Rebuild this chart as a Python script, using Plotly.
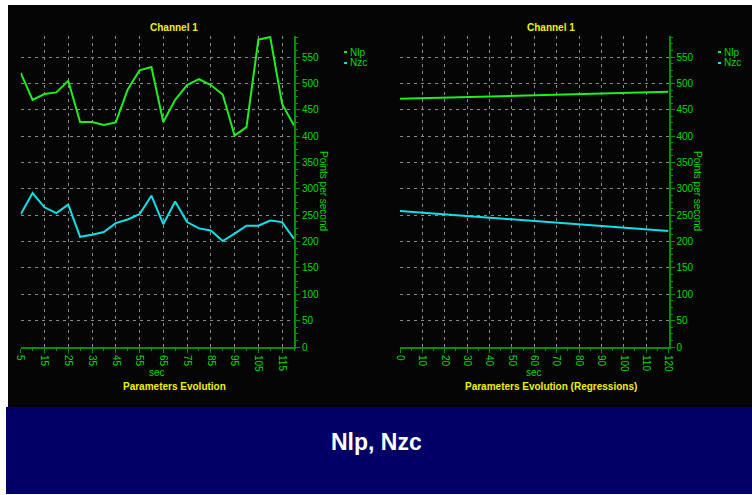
import plotly.graph_objects as go

W, H = 752, 495

# ---- data ----
sec_left = [5, 10, 15, 20, 25, 30, 35, 40, 45, 50, 55, 60, 65, 70, 75, 80,
            85, 90, 95, 100, 105, 110, 115, 120]
nlp_vals = [520, 469, 480, 483, 505, 427, 427, 421, 426, 488, 525, 531,
            427, 469, 497, 508, 497, 479, 401, 417, 583, 588, 461, 420]
nzc_vals = [252, 292, 265, 254, 270, 209, 213, 218, 235, 242, 252, 287,
            233, 276, 237, 225, 221, 201, 215, 230, 230, 240, 237, 205]

sec_right = [0, 120]
nlp_reg = [471, 484]
nzc_reg = [258, 220]

series_names = ["Nlp", "Nzc"]
chart_titles = ["Channel 1", "Channel 1"]
bottom_titles = ["Parameters Evolution", "Parameters Evolution (Regressions)"]
y_title = "Points per second"
x_title = "sec"
banner = "Nlp, Nzc"

# ---- style ----
GREEN = "#1ef01e"
CYAN = "#10e0e8"
AXIS = "#009000"
TICKTXT = "#00dd00"
YELLOW = "#f0f000"
GRID = "#8a8a8a"
FONT = "Liberation Sans"


def px_x(v):
    return v / W


def px_y(v):
    return 1 - v / H


fig = go.Figure()
fig.add_trace(go.Scatter(x=sec_left, y=nlp_vals, mode="lines", name=series_names[0],
                         line=dict(color=GREEN, width=2), xaxis="x", yaxis="y"))
fig.add_trace(go.Scatter(x=sec_left, y=nzc_vals, mode="lines", name=series_names[1],
                         line=dict(color=CYAN, width=2), xaxis="x", yaxis="y"))
fig.add_trace(go.Scatter(x=sec_right, y=nlp_reg, mode="lines", name=series_names[0],
                         line=dict(color=GREEN, width=2), xaxis="x2", yaxis="y2"))
fig.add_trace(go.Scatter(x=sec_right, y=nzc_reg, mode="lines", name=series_names[1],
                         line=dict(color=CYAN, width=2), xaxis="x2", yaxis="y2"))

ydom = [px_y(347), px_y(36)]

common_x = dict(
    showgrid=True, gridcolor=GRID, griddash="3px,4px", gridwidth=1,
    showline=True, linecolor=AXIS, linewidth=2,
    ticks="outside", ticklen=4, tickcolor=AXIS, tickwidth=1,
    tickangle=90, tickfont=dict(family=FONT, size=10, color=TICKTXT),
    zeroline=False, fixedrange=True, automargin=False,
    minor=dict(ticks="outside", ticklen=2, tickcolor=AXIS, dtick=5, showgrid=False),
)
common_y = dict(
    range=[0, 590], side="right",
    showgrid=True, gridcolor=GRID, griddash="3px,4px", gridwidth=1,
    showline=True, linecolor=AXIS, linewidth=2,
    ticks="outside", ticklen=4, tickcolor=AXIS, tickwidth=1,
    tick0=0, dtick=50,
    tickfont=dict(family=FONT, size=10, color=TICKTXT),
    zeroline=False, fixedrange=True, automargin=False,
    minor=dict(ticks="outside", ticklen=2, tickcolor=AXIS, dtick=12.5, showgrid=False),
)

fig.update_layout(
    width=W, height=H,
    margin=dict(l=0, r=0, t=0, b=0),
    paper_bgcolor="white", plot_bgcolor="rgba(0,0,0,0)",
    showlegend=False,
    xaxis=dict(domain=[px_x(20.7), px_x(294)], range=[5, 120], tick0=5, dtick=10,
               anchor="y", **common_x),
    yaxis=dict(domain=ydom, anchor="x", **common_y),
    xaxis2=dict(domain=[px_x(400), px_x(668.5)], range=[0, 120], tick0=0, dtick=10,
                anchor="y2", **common_x),
    yaxis2=dict(domain=ydom, anchor="x2", **common_y),
)

shapes = [
    dict(type="rect", xref="paper", yref="paper", x0=px_x(8), x1=1, y0=px_y(407), y1=px_y(5),
         fillcolor="#050505", line=dict(width=0), layer="below"),
    dict(type="rect", xref="paper", yref="paper", x0=px_x(6), x1=1, y0=px_y(494), y1=px_y(407),
         fillcolor="#000066", line=dict(width=0), layer="below"),
]


def ann(text, x, y, size=10, color=TICKTXT, xanchor="center", **kw):
    return dict(text=text, x=px_x(x), y=px_y(y), xref="paper", yref="paper",
                xanchor=xanchor, yanchor="middle", showarrow=False,
                font=dict(family=FONT, size=size, color=color), **kw)


annotations = []
for i in range(2):
    cx_plot = [157, 534][i]
    cx_title = [174, 551][i]
    annotations.append(ann("<b>" + chart_titles[i] + "</b>", cx_title, 27, color=YELLOW))
    annotations.append(ann(x_title, cx_plot, 372))
    annotations.append(ann("<b>" + bottom_titles[i] + "</b>", cx_title, 386, color=YELLOW))
    annotations.append(ann(y_title, [324, 698][i], 191, textangle=90))
    lx = [347, 721][i]
    for j, (nm, col) in enumerate(zip(series_names, [GREEN, CYAN])):
        yy = [52, 63][j]
        shapes.append(dict(type="line", xref="paper", yref="paper",
                           x0=px_x(lx - 3), x1=px_x(lx), y0=px_y(yy), y1=px_y(yy),
                           line=dict(color=col, width=2)))
        annotations.append(ann(nm, lx + 1, yy, xanchor="left"))

annotations.append(ann("<b>" + banner + "</b>", 376, 442, size=23, color="white"))

fig.update_layout(shapes=shapes, annotations=annotations)
fig.write_html("out.html", config={"displayModeBar": False},
               post_script="document.body.style.margin='0';document.body.style.overflow='hidden';")
